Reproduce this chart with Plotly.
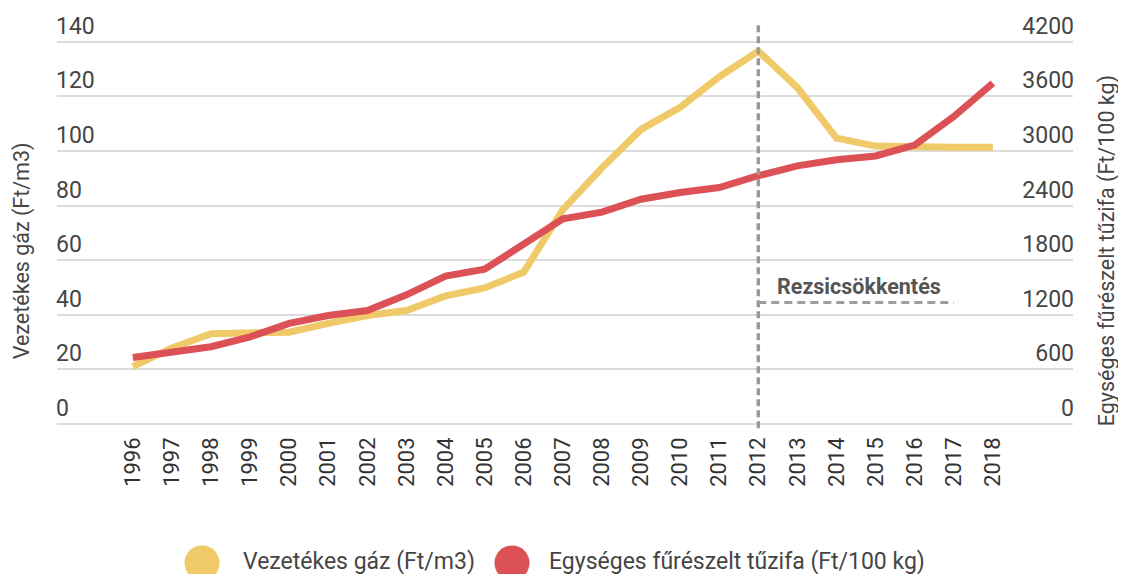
import plotly.graph_objects as go

years = list(range(1996, 2019))
gas = [21, 27.8, 33, 33, 33.6, 36.8, 39.7, 41.5, 46.9, 49.8, 55.6, 78.5, 93.8, 107.9,
       116, 127.2, 136.6, 123.2, 104.7, 101.8, 101.4, 101.4, 101.4]
wood = [729, 794, 848, 956, 1104, 1191, 1245, 1418, 1624, 1699, 1969, 2253, 2328, 2469,
        2544, 2598, 2728, 2836, 2903, 2945, 3064, 3378, 3746]

gas_name = "Vezetékes gáz (Ft/m3)"
wood_name = "Egységes fűrészelt tűzifa (Ft/100 kg)"
left_ticks = [0, 20, 40, 60, 80, 100, 120, 140]
right_ticks = [0, 600, 1200, 1800, 2400, 3000, 3600, 4200]
cut_year = 2012
cut_end_year = 2017
cut_label = "Rezsicsökkentés"

YELLOW = "#F0CA68"
RED = "#DC5156"
TXT = "#454545"
FONT = "Roboto"

fig = go.Figure()
fig.add_trace(go.Scatter(x=years, y=gas, name=gas_name, mode="lines",
                         line=dict(color=YELLOW, width=7), yaxis="y"))
fig.add_trace(go.Scatter(x=years, y=wood, name=wood_name, mode="lines",
                         line=dict(color=RED, width=7), yaxis="y2"))

# the page body adds an 8px margin on every side; keep the page inside the window
yr = [-3, 148]
fig.update_layout(
    width=1110, height=566,
    margin=dict(l=49, r=45, t=4.8, b=142.2),
    paper_bgcolor="white", plot_bgcolor="white",
    showlegend=False,
    font=dict(family=FONT, color=TXT),
    xaxis=dict(range=[1994.06, 2020.05], tickmode="array", tickvals=years,
               ticktext=[str(y) for y in years], tickangle=-90,
               showgrid=False, zeroline=False, showline=False,
               tickfont=dict(size=22, color="#333333", family=FONT), ticks=""),
    yaxis=dict(range=yr, tickmode="array", tickvals=left_ticks,
               ticklabelposition="inside top", ticklabeloverflow="allow",
               ticklabelstandoff=-4, showgrid=True,
               gridcolor="#dcdcdc", gridwidth=1.5, zeroline=False, showline=False,
               tickfont=dict(size=23, color=TXT, family=FONT), ticks=""),
    yaxis2=dict(range=[yr[0] * 30, yr[1] * 30], tickmode="array", tickvals=right_ticks,
                overlaying="y", side="right", ticklabelposition="inside top",
                ticklabeloverflow="allow", ticklabelstandoff=-4,
                showgrid=False, zeroline=False, showline=False,
                tickfont=dict(size=23, color=TXT, family=FONT), ticks=""),
)

# vertical dashed line at 2012 and the horizontal marker
fig.add_shape(type="line", xref="x", yref="y", x0=cut_year, x1=cut_year, y0=-1.6, y1=146.5,
              line=dict(color="#999999", width=3.5, dash="7px,4px"))
fig.add_shape(type="line", xref="x", yref="y", x0=cut_year, x1=cut_end_year, y0=44.5, y1=44.5,
              line=dict(color="#9e9e9e", width=3, dash="8px,5px"))
fig.add_annotation(x=2012.42, y=50.3, xref="x", yref="y", text="<b>" + cut_label + "</b>",
                   showarrow=False, xanchor="left", yanchor="middle",
                   font=dict(size=21.5, color="#555555", family=FONT))

# helpers: reference pixel -> paper coordinate (plot area 57..1073 x 12.8..431.8)
def px_x(p):
    return (p - 57) / 1016.0

def px_y(p):
    return (431.8 - p) / 419.0

# axis titles
fig.add_annotation(x=px_x(22), y=px_y(248), xref="paper", yref="paper", text=gas_name,
                   textangle=-90, showarrow=False, xanchor="center", yanchor="middle",
                   font=dict(size=21.5, color=TXT, family=FONT))
fig.add_annotation(x=px_x(1107), y=px_y(248), xref="paper", yref="paper", text=wood_name,
                   textangle=-90, showarrow=False, xanchor="center", yanchor="middle",
                   font=dict(size=21.5, color=TXT, family=FONT))

# custom legend (large round markers)
for cx, tx, col, name in [(202, 241, YELLOW, gas_name), (512, 547, RED, wood_name)]:
    fig.add_shape(type="circle", xref="paper", yref="paper", xsizemode="pixel", ysizemode="pixel",
                  xanchor=px_x(cx), yanchor=px_y(565), x0=-17.5, x1=17.5, y0=-17.5, y1=17.5,
                  fillcolor=col, line=dict(width=0))
    fig.add_annotation(x=px_x(tx), y=px_y(563), xref="paper", yref="paper", text=name,
                       showarrow=False, xanchor="left", yanchor="middle",
                       font=dict(size=23, color=TXT, family=FONT))

fig.write_html("out.html")
